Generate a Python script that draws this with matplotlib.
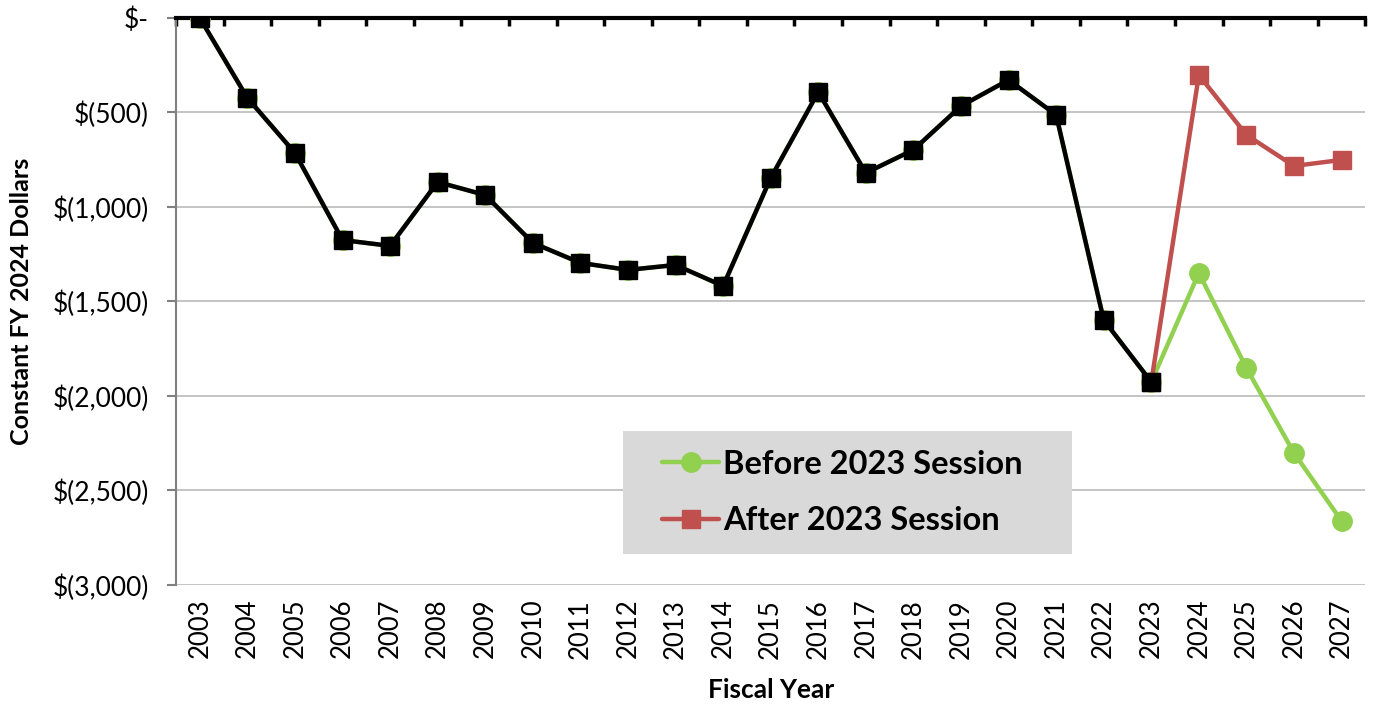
import matplotlib
matplotlib.use("Agg")
import matplotlib.pyplot as plt
from matplotlib.ticker import FixedLocator
from matplotlib.patches import Rectangle

years = list(range(2003, 2028))
historical = [0, -423, -714, -1175, -1206, -868, -937, -1190, -1296, -1333, -1307,
              -1418, -847, -392, -820, -698, -466, -328, -513, -1598, -1926]
before_tail = [-1349, -1852, -2302, -2661]
after_years = [2023, 2024, 2025, 2026, 2027]
after_vals = [-1926, -302, -619, -783, -751]
before_vals = historical + before_tail
hist_years = years[:len(historical)]

yticks = [0, -500, -1000, -1500, -2000, -2500, -3000]
ytick_labels = ["$-", "$(500)", "$(1,000)", "$(1,500)", "$(2,000)", "$(2,500)", "$(3,000)"]

plt.rcParams['font.family'] = ['Lato', 'DejaVu Sans']

fig = plt.figure(figsize=(13.75, 7.07), dpi=100)
ax = fig.add_axes([0.128, 0.1726, 0.865, 0.802])

green = "#92D050"
red = "#C0504D"

ax.plot(years, before_vals, color=green, lw=3.2, marker="o", ms=14, zorder=3,
        label="Before 2023 Session", solid_capstyle="round")
ax.plot(after_years, after_vals, color=red, lw=3.2, marker="s", ms=13, zorder=4,
        label="After 2023 Session", solid_capstyle="round")
ax.plot(hist_years, historical, color="black", lw=3.2, marker="s", ms=13, zorder=5)

ax.set_xlim(2002.5, 2027.5)
ax.set_ylim(-3000, 0)
ax.set_yticks(yticks)
ax.set_yticklabels(ytick_labels, fontsize=19)
ax.set_xticks(years)
ax.set_xticklabels([str(y) for y in years], rotation=90, fontsize=18.5)
ax.tick_params(axis='x', which='major', length=0, pad=10)
ax.xaxis.set_minor_locator(FixedLocator([y - 0.5 for y in years] + [2027.5]))
ax.tick_params(axis='x', which='minor', top=True, bottom=False, direction='in',
               length=6, width=2.5, color='black')
ax.tick_params(axis='y', length=6.5, width=1.5, color='#808080', pad=13)

ax.yaxis.grid(True, color='#BFBFBF', lw=1.3)
ax.set_axisbelow(True)
for s in ['right', 'bottom']:
    ax.spines[s].set_visible(False)
ax.spines['top'].set_linewidth(3)
ax.spines['top'].set_color('black')
ax.spines['left'].set_color('#808080')
ax.spines['left'].set_linewidth(1.5)

ax.set_ylabel("Constant FY 2024 Dollars", fontsize=18, fontweight='bold', labelpad=14)
ax.set_xlabel("Fiscal Year", fontsize=19, fontweight='bold', labelpad=14)

# legend background box
ax.add_patch(Rectangle((0.376, 0.0547), 0.3776, 0.217, transform=ax.transAxes,
                       facecolor='#D9D9D9', edgecolor='none', zorder=2.5))

leg = ax.legend(loc='center left', bbox_to_anchor=(0.4088, 0.163), frameon=False,
                prop={'size': 23.5, 'weight': 'bold'},
                handlelength=1.75, handletextpad=0.12, borderpad=0,
                labelspacing=0.85, markerscale=1.0, borderaxespad=0)
leg.set_zorder(6)

fig.savefig("out.png", dpi=100)
